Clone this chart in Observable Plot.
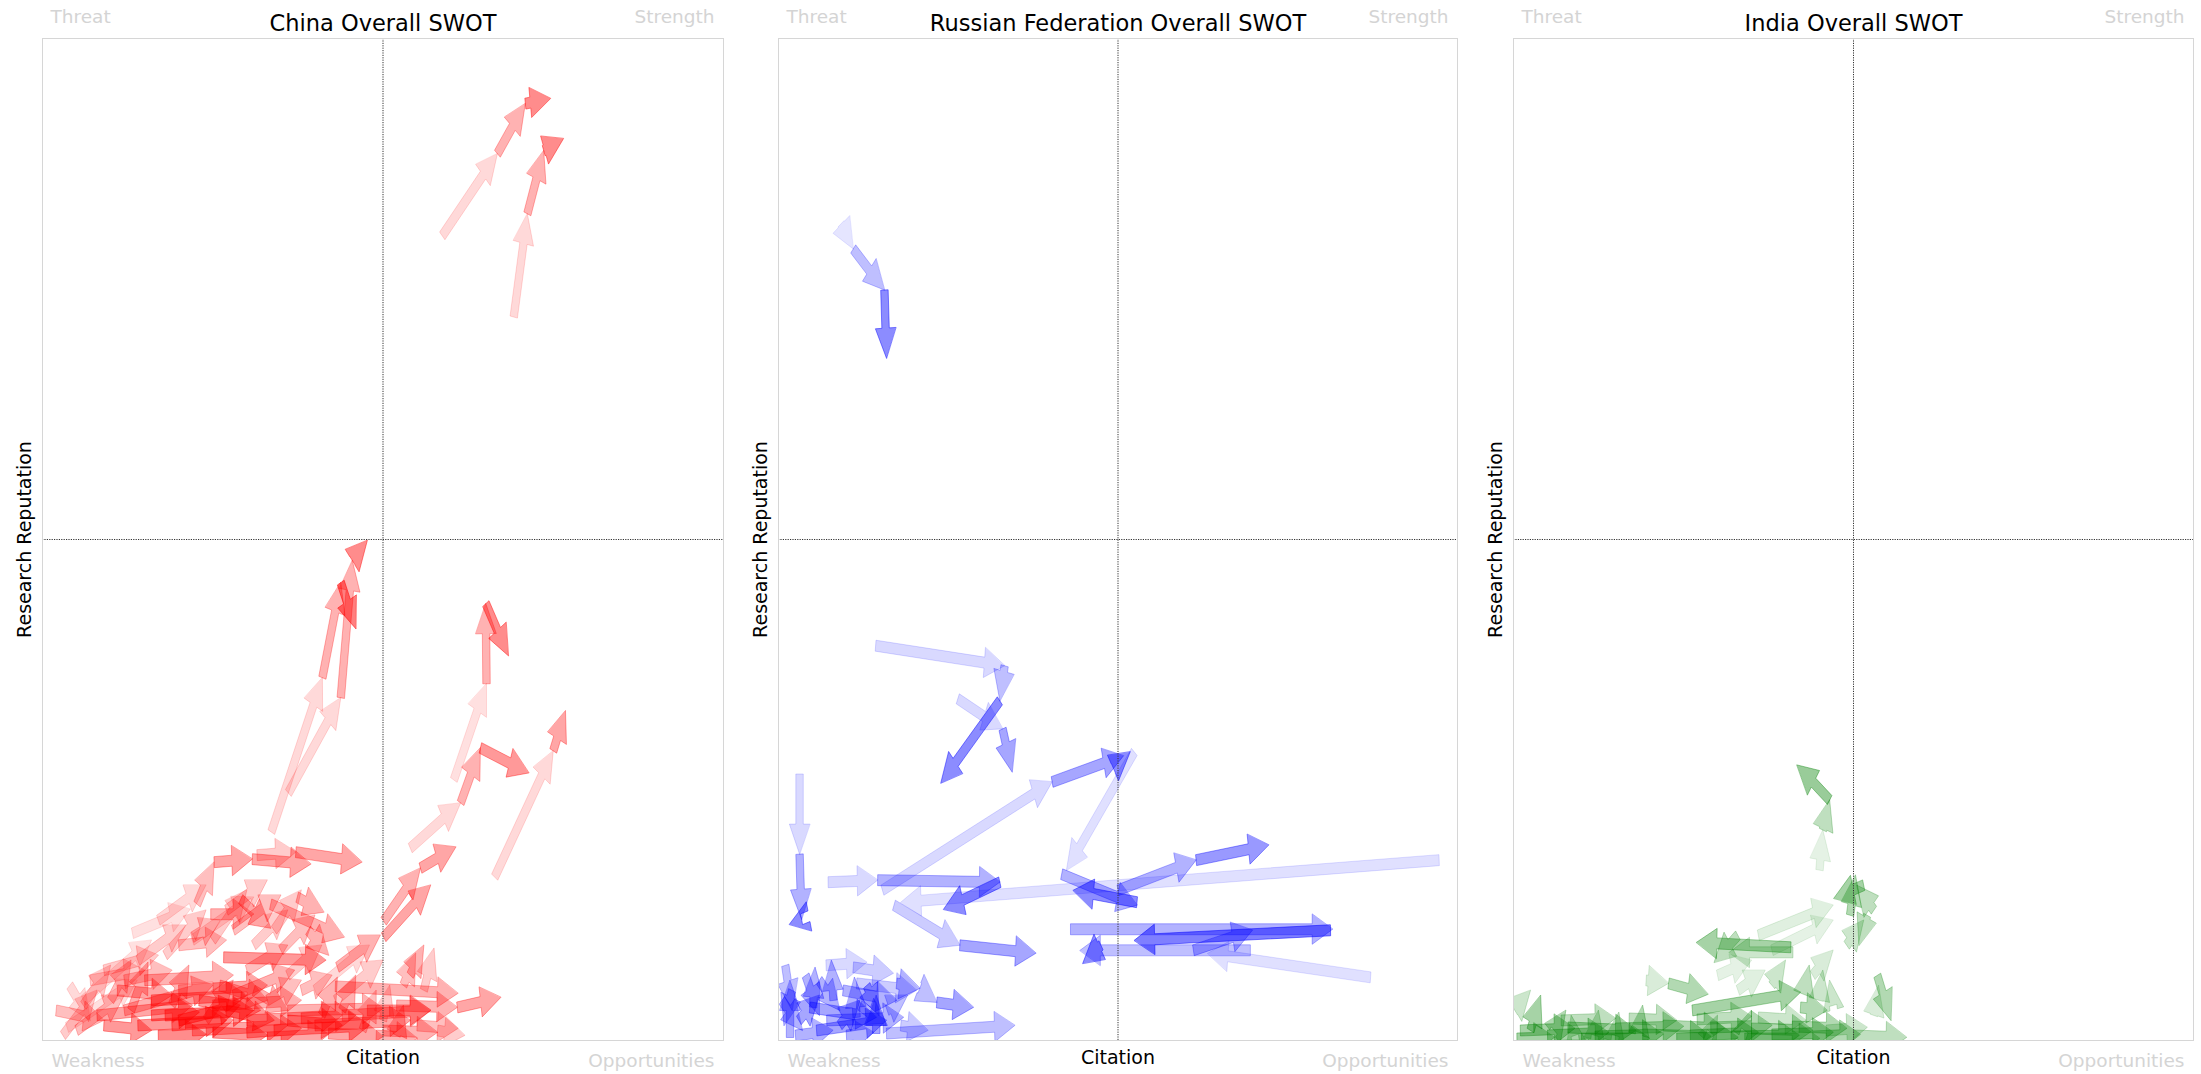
<!DOCTYPE html>
<html><head><meta charset="utf-8">
<script src="https://cdn.jsdelivr.net/npm/d3@7"></script>
<script src="https://cdn.jsdelivr.net/npm/@observablehq/plot@0.6"></script>
<style>
body{margin:0;background:#fff;}
#wrap{position:relative;width:2201px;height:1074px;overflow:hidden;background:#fff;}
#wrap svg{position:absolute;top:0;}
</style></head><body><div id="wrap"></div>
<script>
// ---- data ----
const panelTitles = ["China Overall SWOT", "Russian Federation Overall SWOT", "India Overall SWOT"];
const panelColors = ["#ff0000", "#0000ff", "#008000"];
const cornerLabels = ["Threat", "Strength", "Weakness", "Opportunities"];
const xLabel = "Citation";
const yLabel = "Research Reputation";

// Each path: successive positions [citation, reputation]; the third value of a point is the opacity of the arrow that reaches it.
const chinaPaths = [
  [[58.7,80.3],[66.8,88.5,.15],[70.9,93.5,.3],[74.6,94.0,.45]],
  [[69.2,72.2],[71.2,82.5,.15],[73.6,88.8,.3],[76.5,90.0,.45]],
  [[33.6,20.8],[41.1,36.2,.15],[43.8,45.7,.3],[46.0,41.1,.5]],
  [[36.1,24.7],[43.8,34.2,.15],[45.5,47.9,.3],[47.7,49.9,.45]],
  [[60.4,26.0],[65.2,35.6,.12],[65.1,43.6,.3],[68.4,38.4,.45]],
  [[54.0,19.2],[61.4,23.7,.15],[64.3,29.2,.3],[71.4,26.7,.4]],
  [[66.4,16.3],[75.0,28.9,.15],[76.8,32.9,.35]],
  [[31.5,18.5],[37.2,18.8,.2],[46.9,17.8,.35]],
  [[22.7,13.6],[25.2,17.8,.25],[30.8,18.1,.35],[39.4,17.6,.35]],
  [[26.6,8.3],[41.6,8.0,.4]],
  [[52,3.5],[60.9,3.3,.3],[67.3,4.3,.35]],
  [[50.1,11.9],[55.5,17.2,.3],[60.7,19.3,.35]],
  [[50.1,10.3],[57.0,15.5,.35]],
  [[43.3,7.3],[49.6,10.5,.3]],
  [[43,5.4],[61,4.7,.3]],
  [[13.2,10.7],[21.7,13.1,.12]],
  [[22.0,10.0],[31.0,14.3,.15]],
  [[3.6,1.3],[13.9,6.0,.12]],
  [[6,4],[16,10,.12]],
  [[33.5,13.6],[44.3,10.3,.3]],
  [[37.4,14.3],[41.3,12.8,.3]],
  [[29.1,14.1],[33.5,11.2,.35]],
  [[24.7,12.6],[31.0,12.6,.3]],
  [[22,10.3],[26.1,12.0,.25]],
  [[18,8.5],[24,13,.2]],
  [[25,10],[30,15,.2]],
  [[28,11],[35,14.5,.25]],
  [[31,9.5],[36,13,.2]],
  [[35,9],[40,12.5,.25]],
  [[39,11],[42,8.5,.3]],
  [[20,9.5],[27,10,.25]],
  [[9,7],[17,8.5,.2]],
  [[40,5],[48,9.5,.15]],
  [[43,4],[50,8,.2]],
  [[14,8],[21,11.5,.2]],
  [[17,12],[24,15.5,.15]],
  [[27,13],[33,16,.2]],
  [[30,7],[36,9.5,.25]],
  [[34,11],[38,15,.2]],
  [[12,6],[19,7,.25]],
  [[36,6.5],[41,9.5,.2]],
  [[8,2.5],[22,3.5,.35]],
  [[14,1.5],[27,2.0,.4]],
  [[16,4.0],[30,4.5,.4]],
  [[12,3.0],[25,5.5,.3]],
  [[18,2.5],[31,3.0,.45]],
  [[20,5.0],[33,5.5,.35]],
  [[15,6.0],[28,6.5,.3]],
  [[22,1.0],[36,1.5,.35]],
  [[25,3.5],[38,4.0,.3]],
  [[30,2.0],[44,2.5,.35]],
  [[34,1.0],[48,1.5,.4]],
  [[36,3.0],[50,3.2,.3]],
  [[40,1.5],[54,2.0,.35]],
  [[44,2.5],[57,3.0,.3]],
  [[47.7,3.0],[57,3.0,.35]],
  [[28,4.5],[37,7.0,.3]],
  [[5,1.0],[12,4.5,.25]],
  [[3,0.5],[8,5.0,.2]],
  [[6,3.5],[10,7.5,.2]],
  [[10,4.0],[13,8.0,.25]],
  [[13,3.0],[15.5,7.8,.3]],
  [[19,3.5],[21.5,7.5,.3]],
  [[24,2.0],[28,6.0,.3]],
  [[26,5.5],[33,4.0,.3]],
  [[31,5.0],[36,3.0,.3]],
  [[33,4.0],[38,6.0,.25]],
  [[38,5.0],[42.5,6.5,.25]],
  [[41,2.5],[43.3,6.3,.3]],
  [[44,3.0],[46,6.5,.3]],
  [[47,1.0],[49,5.0,.25]],
  [[50,2.0],[51,5.5,.2]],
  [[52,0.5],[53,3.5,.3]],
  [[53,5.5],[54.8,8.7,.25]],
  [[54,6.5],[56,9.5,.3]],
  [[56,5.0],[57.5,9.2,.2]],
  [[9,1.5],[16,1.0,.4]],
  [[17,0.5],[24,0.6,.45]],
  [[25,0.8],[33,0.5,.4]],
  [[33,0.3],[42,0.6,.35]],
  [[42,0.7],[50,0.4,.35]],
  [[50,1.0],[58,0.8,.3]],
  [[55,1.5],[61,1.2,.25]],
  [[36,2.0],[44,1.5,.4]],
  [[20,2.0],[29,3.5,.45]],
  [[23,4.0],[32,3.0,.4]],
  [[27,3.0],[34,2.0,.4]],
  [[11,5.0],[19,4.5,.35]],
  [[7,6.0],[15,7.0,.2]],
  [[2,3.0],[9,2.0,.25]],
  [[4,5.5],[7,2.0,.15]],
  [[58,1.0],[62,0.5,.2]],
  [[49,0.5],[55,0.2,.3]],
  [[16,2.5],[23,2.8,.45]],
  [[19,1.5],[28,2.0,.4]],
  [[30,0.8],[38,1.2,.4]],
  [[38,2.2],[46,2.5,.35]]
];

const russiaPaths = [
  [[9.2,81.5],[11.0,79.0,.1],[15.6,74.9,.25],[15.9,68.1,.45]],
  [[14.3,39.4],[33.3,37.4,.15],[32.6,33.9,.25],[23.9,25.7,.45]],
  [[26.4,34.1],[33.0,31.1,.15],[34.4,26.8,.35]],
  [[15.3,15.0],[40.3,25.8,.15],[50.8,28.4,.35]],
  [[49.3,27.2],[51.8,28.8,.45]],
  [[52.4,28.8],[42.4,17.0,.12]],
  [[3.1,26.6],[3.1,18.6,.15],[3.4,12.1,.3],[1.6,11.6,.45]],
  [[7.3,15.8],[14.6,16.0,.15],[32.6,15.8,.3],[24.3,13.1,.45]],
  [[97.3,18.0],[18.0,13.8,.12]],
  [[17.0,13.5],[26.7,9.5,.2],[37.9,8.7,.35]],
  [[41.7,16.6],[52.8,13.5,.3]],
  [[52.8,13.8],[43.4,15.0,.45]],
  [[50.0,15.0],[61.5,18.0,.3],[72.2,19.5,.4]],
  [[43.0,11.1],[81.6,11.1,.3]],
  [[81.3,11.0],[52.4,10.0,.5]],
  [[69.5,9.0],[44.4,9.0,.25]],
  [[87.2,6.3],[63.2,8.7,.12]],
  [[61.1,9.0],[69.8,11.0,.3]],
  [[47.5,9.5],[44.8,7.7,.45]],
  [[1.7,0.3],[1.7,6.0,.3]],
  [[5.1,3.3],[5.4,7.3,.3]],
  [[8.1,4.0],[7.8,8.0,.3]],
  [[11.5,2.3],[11.2,6.3,.3]],
  [[14.4,0.7],[14.4,4.5,.35]],
  [[11.0,7.3],[16.9,6.7,.2]],
  [[11.5,5.7],[20.3,5.0,.2]],
  [[17.4,5.7],[20.8,5.2,.3],[23.3,3.8,.25],[28.7,3.3,.35]],
  [[15.9,0.7],[34.8,1.5,.25]],
  [[4.6,3.3],[14.4,2.3,.35]],
  [[7.1,2.0],[18.4,2.3,.3]],
  [[9.5,5.0],[17.4,4.0,.3]],
  [[5.6,1.0],[15.9,2.0,.35]],
  [[2,5],[0.8,1.5,.3]],
  [[3,2],[6,4.5,.35]],
  [[0.5,4],[3.5,1,.3]],
  [[6,6],[9,3,.3]],
  [[9,1.5],[12,4,.35]],
  [[12,3.5],[16,1.5,.3]],
  [[2.5,0.5],[8,1.0,.3]],
  [[16,3],[19,4.5,.25]],
  [[18,1.5],[22,1.0,.2]],
  [[1,7.5],[2,3,.25]],
  [[7,7.5],[13,7.8,.15]],
  [[4,6.5],[6,2.5,.3]],
  [[13,5.5],[14.8,2.5,.4]],
  [[10,0.5],[14,0.8,.3]]
];

const indiaPaths = [
  [[45,17],[45.5,21,.1],[46.5,24.0,.25],[41.7,27.5,.4]],
  [[51.5,15.5],[47.1,14.2,.35]],
  [[49.5,12.5],[50.3,16.5,.3]],
  [[53,13],[50.5,15.5,.25]],
  [[49,9.5],[51.5,12,.2]],
  [[52,12.5],[50.8,9.5,.25]],
  [[36,10.5],[47,13.5,.12]],
  [[38,9],[47,12,.1]],
  [[40.8,9.3],[26.9,9.8,.35]],
  [[41.1,8.8],[31.7,8.8,.2]],
  [[33,10.5],[29.5,7.8,.25]],
  [[38,5.5],[40,8,.2]],
  [[19.5,6.0],[22.8,5.7,.15]],
  [[22.8,5.7],[28.6,4.6,.3]],
  [[26.3,3.0],[42.2,4.8,.35]],
  [[42.2,3.3],[46.1,3.0,.3]],
  [[42.7,4.6],[43.5,7.5,.25]],
  [[45,4],[45.5,7,.2]],
  [[47,3.5],[46.5,6.0,.2]],
  [[53,2.5],[53.7,5.5,.15]],
  [[53.5,6.5],[55.5,2.0,.3]],
  [[50,0.5],[57.8,0.3,.25]],
  [[33,5],[37,7,.12]],
  [[30,6.5],[35,8,.1]],
  [[44,6.5],[47,9,.15]],
  [[1,1],[9,1.2,.35]],
  [[5,0.5],[14,0.8,.35]],
  [[8,1.3],[18,1.0,.35]],
  [[12,0.4],[22,0.6,.35]],
  [[15,1.2],[25,1.4,.3]],
  [[19,0.6],[29,0.4,.35]],
  [[22,1.5],[31,1.2,.3]],
  [[26,0.5],[36,0.8,.35]],
  [[29,1.3],[38,1.5,.3]],
  [[32,0.4],[42,0.5,.35]],
  [[35,1.2],[44,1.0,.3]],
  [[38,0.6],[47,0.8,.35]],
  [[41,1.4],[49,1.2,.3]],
  [[44,0.4],[51,0.6,.3]],
  [[7,2.0],[15,2.2,.25]],
  [[17,2.2],[24,2.0,.25]],
  [[27,2.1],[35,2.4,.25]],
  [[36,2.3],[43,2.0,.2]],
  [[0.5,0.2],[6,0.3,.35]],
  [[10,0.2],[20,0.2,.35]],
  [[24,0.2],[33,0.3,.35]],
  [[34,0.2],[45,0.2,.3]],
  [[46,1.0],[52,1.3,.2]],
  [[12,0.5],[12.5,3.0,.25]],
  [[15,0.5],[15.5,2.8,.25]],
  [[18.5,0.8],[19,3.5,.3]],
  [[29,0.8],[30,2.5,.25]],
  [[34,1.0],[35,3.0,.3]],
  [[0.2,3],[2.5,5,.2]],
  [[2.5,1],[4,4.5,.35]],
  [[6,1],[7.7,3,.3]],
  [[9,0.5],[8.5,2.5,.25]]
];

const allPaths = [chinaPaths, russiaPaths, indiaPaths];

// ---- arrow geometry (matplotlib FancyArrow, length includes head) ----
const shaftWidth = 1.1, headWidth = 3.0, headLength = 3.0;
function arrowPolygons(paths) {
  const rows = [];
  let id = 0;
  for (const path of paths) {
    for (let i = 1; i < path.length; i++) {
      const [x1, y1] = path[i - 1];
      const [x2, y2, a] = path[i];
      const dx = x2 - x1, dy = y2 - y1, d = Math.hypot(dx, dy);
      if (!d) continue;
      const cx = dx / d, sx = dy / d;
      const hl = headLength, hw = headWidth / 2, lw = shaftWidth / 2;
      const local = [[0,0],[-hl,-hw],[-hl,-lw],[-d,-lw],[-d,lw],[-hl,lw],[-hl,hw]];
      for (const [u, v] of local) rows.push({id, a, x: x2 + u * cx - v * sx, y: y2 + u * sx + v * cx});
      id++;
    }
  }
  return rows;
}

// ---- layout ----
const layout = [
  {left: 0, width: 733, ml: 42, mr: 10},
  {left: 733, width: 734, ml: 45, mr: 10},
  {left: 1467, width: 734, ml: 46, mr: 8}
];
const wrap = document.getElementById("wrap");
const light = "#d4d4d4";
const font = "DejaVu Sans";

panelTitles.forEach((title, k) => {
  const L = layout[k], color = panelColors[k];
  const rows = arrowPolygons(allPaths[k]);
  const svg = Plot.plot({
    width: L.width, height: 1074,
    marginLeft: L.ml, marginRight: L.mr, marginTop: 38, marginBottom: 34,
    x: {domain: [0, 100], axis: null},
    y: {domain: [0, 100], axis: null},
    opacity: {type: "identity"},
    style: {fontFamily: font, background: "white", overflow: "visible"},
    marks: [
      Plot.line(rows, {x: "x", y: "y", z: "id", curve: "linear-closed", fill: color, fillOpacity: "a", stroke: color, strokeOpacity: "a", strokeWidth: 1, clip: true}),
      Plot.ruleX([50], {stroke: "#333", strokeWidth: 1, strokeDasharray: "1.2,1.2"}),
      Plot.ruleY([50], {stroke: "#333", strokeWidth: 1, strokeDasharray: "1.2,1.2"}),
      Plot.frame({stroke: "#d6d6d6", strokeWidth: 1}),
      Plot.text([title], {text: d => d, frameAnchor: "top", dy: -8, lineAnchor: "bottom", fontSize: 22.5, fill: "black"}),
      Plot.text([cornerLabels[0]], {text: d => d, frameAnchor: "top-left", dx: 8, dy: -16, lineAnchor: "bottom", textAnchor: "start", fontSize: 18.5, fill: light}),
      Plot.text([cornerLabels[1]], {text: d => d, frameAnchor: "top-right", dx: -9, dy: -16, lineAnchor: "bottom", textAnchor: "end", fontSize: 18.5, fill: light}),
      Plot.text([cornerLabels[2]], {text: d => d, frameAnchor: "bottom-left", dx: 9, dy: 26, lineAnchor: "bottom", textAnchor: "start", fontSize: 18.5, fill: light}),
      Plot.text([cornerLabels[3]], {text: d => d, frameAnchor: "bottom-right", dx: -9, dy: 26, lineAnchor: "bottom", textAnchor: "end", fontSize: 18.5, fill: light}),
      Plot.text([xLabel], {text: d => d, frameAnchor: "bottom", dy: 23, lineAnchor: "bottom", fontSize: 19, fill: "black"}),
      Plot.text([yLabel], {text: d => d, frameAnchor: "left", dx: -18, rotate: -90, textAnchor: "middle", lineAnchor: "middle", fontSize: 19, fill: "black"})
    ]
  });
  svg.style.left = L.left + "px";
  wrap.appendChild(svg);
});
</script>
</body></html>
